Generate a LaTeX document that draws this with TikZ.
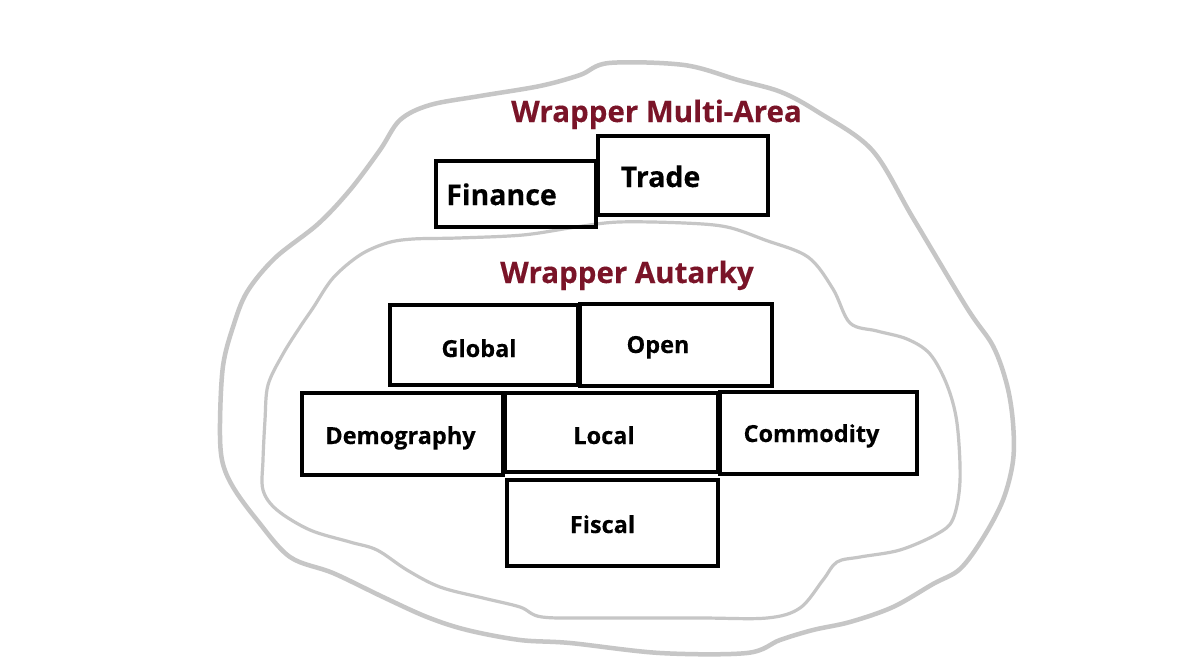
\documentclass[tikz,border=0pt]{standalone}
\usepackage{fontspec}
\setmainfont{Open Sans}[FakeBold=0.3]
\definecolor{wrapred}{HTML}{7A1428}
\definecolor{blobgray}{HTML}{C6C6C6}
\tikzset{
  blobouter/.style={draw=blobgray, line width=4.5pt, line join=round},
  blobinner/.style={draw=blobgray, line width=3.2pt, line join=round},
  modbox/.style={draw=black, line width=4pt, rectangle, inner sep=0pt, fill=none},
  bigtxt/.style={font=\fontsize{28.5}{30}\selectfont\bfseries, text=black, inner sep=0pt, anchor=base},
  smalltxt/.style={font=\fontsize{23.5}{25}\selectfont\bfseries, text=black, inner sep=0pt, anchor=base},
  wraptxt/.style={font=\fontsize{29.5}{31}\selectfont\bfseries, text=wrapred, inner sep=0pt, anchor=base},
}
\begin{document}
\begin{tikzpicture}[x=1pt,y=-1pt]
\fill[white] (0,0) rectangle (1189,669);
\useasboundingbox (0,0) rectangle (1189,669);

% outer wrapper blob
\draw[blobouter] plot[smooth cycle, tension=0.55] coordinates {
(609,63) (684,65) (738,80) (781,92) (818,112) (872,150) (913,218) (967,308)
(993,346) (1007,385) (1013,423) (1013,461) (1003,500) (983,538) (960,569)
(933,584) (893,607) (850,622) (813,630) (780,640) (747,653) (660,653)
(570,643) (520,640) (467,630) (427,617) (383,597) (333,573) (290,557)
(257,520) (233,487) (222,460) (220,423) (223,366) (233,327) (247,292)
(275,258) (318,224) (350,190) (380,150) (400,120) (430,105) (480,96)
(540,86) (580,75)};

% inner wrapper blob
\draw[blobinner] plot[smooth cycle, tension=0.55] coordinates {
(619,222) (684,223) (727,227) (765,240) (808,257) (833,289) (850,323)
(877,331) (907,339) (930,354) (947,385) (957,423) (960,481) (953,519)
(937,534) (900,550) (860,557) (837,562) (823,580) (800,608) (767,618)
(700,618) (600,618) (542,617) (520,607) (483,598) (440,587) (407,570)
(377,550) (350,542) (310,530) (277,510) (263,490) (263,460) (265,420)
(268,385) (283,354) (300,327) (313,308) (333,278) (360,255) (387,243)
(413,239) (458,238) (523,235) (576,227)};

% titles
\node[wraptxt] (tma) at (656.5,122) {Wrapper Multi-Area};
\node[wraptxt] (tau) at (627,283) {Wrapper Autarky};

% multi-area boxes
\node[modbox, minimum width=160pt, minimum height=66pt] (fin) at (516,194) {};
\node[modbox, minimum width=170pt, minimum height=79pt] (trd) at (683,175.5) {};
\node[bigtxt] (finT) at (501.5,205) {Finance};
\node[bigtxt] (trdT) at (660.5,187) {Trade};

% autarky boxes
\node[modbox, minimum width=188pt, minimum height=80pt] (glo) at (484,345) {};
\node[modbox, minimum width=192pt, minimum height=82pt] (opn) at (676,345) {};
\node[modbox, minimum width=201pt, minimum height=82pt] (dem) at (402.5,434) {};
\node[modbox, minimum width=213pt, minimum height=79pt] (loc) at (611.5,432.5) {};
\node[modbox, minimum width=197pt, minimum height=82pt] (com) at (818.5,433) {};
\node[modbox, minimum width=211pt, minimum height=86pt] (fis) at (612.5,523) {};

\node[smalltxt] (gloT) at (479,357) {Global};
\node[smalltxt] (opnT) at (658,353) {Open};
\node[smalltxt] (demT) at (400.5,444) {Demography};
\node[smalltxt] (locT) at (604,444) {Local};
\node[smalltxt] (comT) at (811.5,442) {Commodity};
\node[smalltxt] (fisT) at (602.5,533) {Fiscal};
\end{tikzpicture}
\end{document}
